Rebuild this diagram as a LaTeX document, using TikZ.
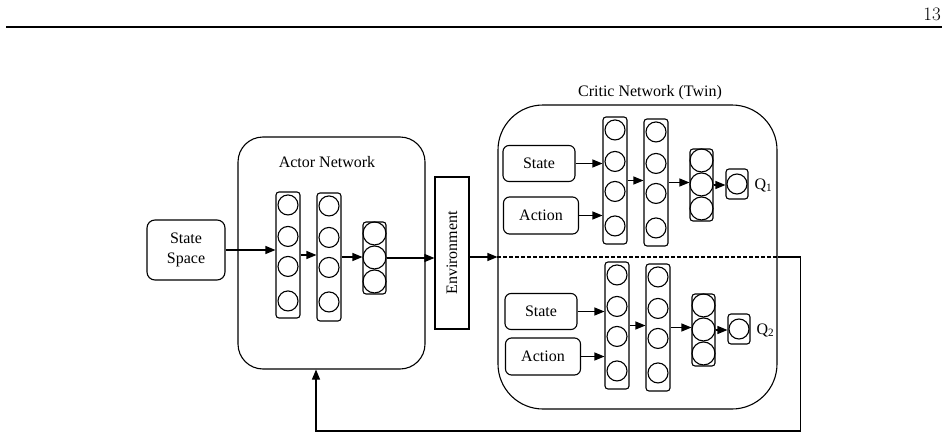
\documentclass[tikz,border=0pt]{standalone}
\usepackage{fontspec}
\newfontfamily\tnr{Liberation Serif}
\usetikzlibrary{arrows.meta,calc}

\tikzset{
  box/.style={draw, rounded corners=6pt, inner sep=0pt, align=center, font=\tnr\fontsize{16}{20}\selectfont},
  lbl/.style={inner sep=0pt, font=\tnr\fontsize{16}{20}\selectfont},
  layer/.style={draw, rounded corners=3pt, minimum width=24pt, inner sep=0pt},
  neuron/.style={draw, circle, minimum size=20pt, inner sep=0pt},
  bigneuron/.style={draw, circle, minimum size=23pt, inner sep=0pt},
  arr/.style={-{Triangle[length=10pt,width=8pt]}}
}

\begin{document}
\begin{tikzpicture}[x=1pt, y=-1pt, line width=1.1pt]
  \useasboundingbox (0,0) rectangle (948,439);

  % page header
  \node[inner sep=0pt, font=\fontsize{19}{19}\selectfont] (page) at (932,14) {13};
  \draw[line width=1.5pt] (6,27) -- (942,27);

  % state input
  \node[box, rounded corners=8pt, minimum width=78pt, minimum height=60pt] (ss) at (186,250) {State\\Space};

  % Actor Network
  \node[draw, rounded corners=25pt, minimum width=187pt, minimum height=232pt] (actor) at (331.5,253) {};
  \node[lbl] (actlbl) at (327,162) {Actor Network};
  \node[layer, minimum height=126pt] (a1) at (288,255) {};
  \node[layer, minimum height=128pt] (a2) at (329,257) {};
  \node[layer, minimum width=23pt, minimum height=72pt] (a3) at (374.5,258) {};
  \foreach \ly in {a1,a2} {
    \foreach \i/\o in {1/13.5, 2/45, 3/75, 4/109.5} {
      \node[neuron] (\ly n\i) at ($(\ly.north)+(0,\o)$) {};
    }
  }
  \foreach \i/\o in {1/12, 2/36, 3/60} {
    \node[bigneuron] (a3n\i) at ($(a3.north)+(0,\o)$) {};
  }
  \draw[arr] (ss.east) -- (ss.east -| a1.west);
  \draw[arr] (a1.east) -- (a1.east -| a2.west);
  \draw[arr] (a2.east) -- (a2.east -| a3.west);

  % Environment
  \node[box, rounded corners=0pt, minimum width=34pt, minimum height=152pt] (env) at (452,253) {\rotatebox{90}{Environment}};
  \draw[arr] (a3.east) -- (a3.east -| env.west);

  % Critic Network (Twin)
  \node[draw, rounded corners=45pt, minimum width=279pt, minimum height=304pt] (critic) at (637.5,257) {};
  \node[lbl] (crlbl) at (650,93) {Critic Network (Twin)};
  \draw[arr] (env.east |- critic.west) -- (critic.west);
  \draw[dash pattern=on 4pt off 2pt] (critic.west) -- (critic.east);

  \foreach \k/\dx/\dy/\sy/\ay in {1/0/0/163.5/215.5, 2/2/145/311.5/356.5} {
    \node[box, minimum width=72pt, minimum height=36pt] (st\k) at (539+\dx,\sy) {State};
    \node[box, minimum width=75pt, minimum height=37pt] (ac\k) at (541+\dx,\ay) {Action};
    \node[layer, minimum height=127pt] (c\k l1) at (615+\dx,180.5+\dy) {};
    \node[layer, minimum height=127pt] (c\k l2) at (656+\dx,182.5+\dy) {};
    \node[layer, minimum width=23pt, minimum height=72pt] (c\k l3) at (701.5+\dx,185+\dy) {};
    \node[layer, minimum width=22pt, minimum height=30pt] (out\k) at (737+\dx,184+\dy) {};
    \foreach \ly in {c\k l1,c\k l2} {
      \foreach \i/\o in {1/13.5, 2/45, 3/75, 4/109.5} {
        \node[neuron] (\ly n\i) at ($(\ly.north)+(0,\o)$) {};
      }
    }
    \foreach \i/\o in {1/12, 2/36, 3/60} {
      \node[bigneuron] (c\k l3n\i) at ($(c\k l3.north)+(0,\o)$) {};
    }
    \node[neuron] (out\k n) at (out\k) {};
    \node[lbl, anchor=west] (q\k) at (754+\dx,185+\dy) {Q\textsubscript{\k}};
    \draw[arr] (st\k.east) -- (st\k.east -| c\k l1.west);
    \draw[arr] (ac\k.east) -- (ac\k.east -| c\k l1.west);
    \draw[arr] (c\k l1.east) -- (c\k l1.east -| c\k l2.west);
    \draw[arr] (c\k l2.east) -- (c\k l2.east -| c\k l3.west);
    \draw[arr] (c\k l3.east) -- (c\k l3.east -| out\k.west);
  }

  % feedback to the actor
  \coordinate (fb) at (316,431);
  \draw[arr] (critic.east) -- ++(23,0) |- (fb) -- (fb |- actor.south);
\end{tikzpicture}
\end{document}
